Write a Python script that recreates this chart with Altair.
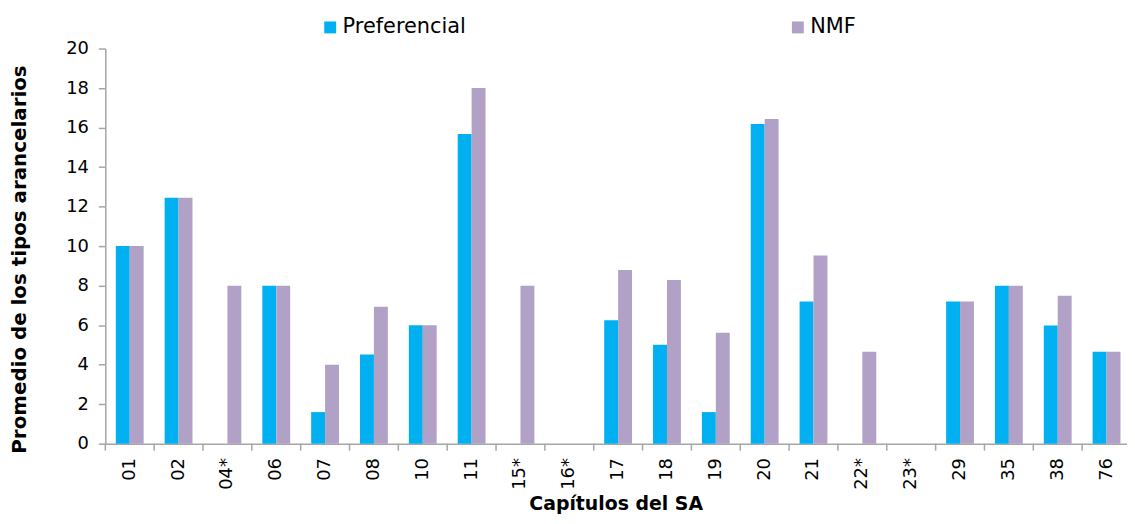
import altair as alt
import pandas as pd

categories = ["01", "02", "04*", "06", "07", "08", "10", "11", "15*", "16*", "17",
              "18", "19", "20", "21", "22*", "23*", "29", "35", "38", "76"]
preferencial = [10.0, 12.45, 0, 8.0, 1.6, 4.52, 6.0, 15.68, 0, 0, 6.25,
                5.01, 1.6, 16.18, 7.2, 0, 0, 7.2, 8.0, 5.98, 4.66]
nmf = [10.0, 12.45, 8.0, 8.0, 4.0, 6.93, 6.0, 18.0, 8.0, 0, 8.79,
       8.29, 5.61, 16.43, 9.53, 4.66, 0, 7.2, 8.0, 7.49, 4.66]
series = ["Preferencial", "NMF"]
colors = ["#00B0F0", "#B2A1C7"]
y_ticks = [0, 2, 4, 6, 8, 10, 12, 14, 16, 18, 20]

rows = []
for c, p, n in zip(categories, preferencial, nmf):
    rows.append({"cap": c, "serie": series[0], "valor": p})
    rows.append({"cap": c, "serie": series[1], "valor": n})
df = pd.DataFrame(rows)
df_cats = pd.DataFrame({"cap": categories})

FONT = "DejaVu Sans"
AX = "#A6A6A6"
X_RANGE = [0, 1033]

bars = alt.Chart(df).mark_bar().encode(
    x=alt.X("cap:N", sort=categories,
            scale=alt.Scale(paddingInner=0.43, paddingOuter=0.215, range=X_RANGE),
            axis=alt.Axis(title="Capítulos del SA", labelAngle=-90, ticks=False,
                          tickSize=0, labelPadding=14, labelFontSize=18,
                          labelFont=FONT, labelColor="#000000",
                          titleFont=FONT, titleFontSize=19, titleFontWeight="bold",
                          titleColor="#000000", titleY=51, titleX=514,
                          titleBaseline="top",
                          domainColor=AX, domainWidth=1.5)),
    xOffset=alt.XOffset("serie:N", sort=series, scale=alt.Scale(paddingInner=0)),
    y=alt.Y("valor:Q", scale=alt.Scale(domain=[0, 20], nice=False),
            axis=alt.Axis(title="Promedio de los tipos arancelarios", values=y_ticks,
                          grid=False, tickSize=7, tickColor=AX, tickWidth=1.5,
                          domainColor=AX, domainWidth=1.5,
                          labelPadding=10, labelFontSize=18, labelFont=FONT,
                          labelColor="#000000",
                          titleFont=FONT, titleFontSize=20, titleFontWeight="bold",
                          titleColor="#000000", titleX=-86, titleY=212,
                          titleBaseline="middle", titleAngle=-90)),
    color=alt.Color("serie:N", sort=series,
                    scale=alt.Scale(domain=series, range=colors),
                    legend=alt.Legend(title=None, orient="none", legendX=216, legendY=-32,
                                      direction="horizontal", symbolType="square",
                                      symbolSize=144, symbolStrokeWidth=0,
                                      labelFontSize=21, labelFont=FONT,
                                      labelColor="#000000", labelOffset=2,
                                      columnPadding=323, labelLimit=0)),
)

ticks = alt.Chart(df_cats).mark_rule(color=AX, strokeWidth=1.5).encode(
    x=alt.X("cap:N", sort=categories, bandPosition=0,
            scale=alt.Scale(paddingInner=0, paddingOuter=0, range=X_RANGE), axis=None),
    y=alt.value(398),
    y2=alt.value(405),
)

chart = alt.layer(bars, ticks).resolve_scale(x="independent").properties(
    width=1029, height=398,
    padding={"left": 98, "top": 39, "right": 0, "bottom": 71},
    autosize=alt.AutoSizeParams(type="none"),
).configure_view(stroke=None)

chart.save("out.html", embed_options={"renderer": "svg", "actions": False})
